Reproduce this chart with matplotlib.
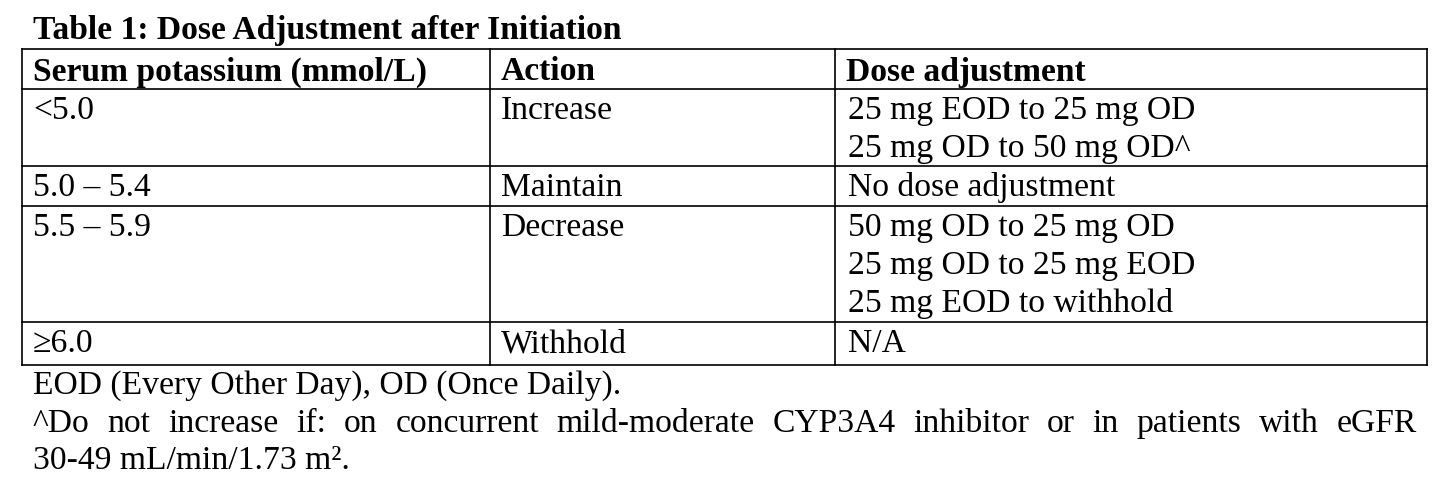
import matplotlib
matplotlib.use("Agg")
import matplotlib.pyplot as plt

plt.rcParams["font.family"] = "Liberation Serif"

title = "Table 1: Dose Adjustment after Initiation"
headers = ["Serum potassium (mmol/L)", "Action", "Dose adjustment"]
potassium = ["<5.0", "5.0 \u2013 5.4", "5.5 \u2013 5.9", "\u22656.0"]
actions = ["Increase", "Maintain", "Decrease", "Withhold"]
adjustments = [
    ["25 mg EOD to 25 mg OD", "25 mg OD to 50 mg OD^"],
    ["No dose adjustment"],
    ["50 mg OD to 25 mg OD", "25 mg OD to 25 mg EOD", "25 mg EOD to withhold"],
    ["N/A"],
]
note1 = "EOD (Every Other Day), OD (Once Daily)."
note2 = ("^Do not increase if: on concurrent mild-moderate CYP3A4 inhibitor "
         "or in patients with eGFR")
note3 = "30-49 mL/min/1.73 m\u00b2."

W, H = 1443, 485
fig = plt.figure(figsize=(W / 100, H / 100), dpi=100)
ax = fig.add_axes([0, 0, 1, 1])
ax.set_xlim(0, W)
ax.set_ylim(H, 0)
ax.axis("off")

fs = 24.2
left, right = 22, 1427
col_x = [left, 490, 835, right]
row_y = [50, 90, 167, 207, 323, 366]
line_h = 38
pad = 11

ax.text(33, 30, title, fontsize=fs, fontweight="bold", va="center")

lw = 1.2
for y in row_y:
    ax.plot([left, right], [y, y], color="black", lw=lw)
for x in col_x:
    ax.plot([x, x], [row_y[0], row_y[-1]], color="black", lw=lw)

for i, h in enumerate(headers):
    ax.text(col_x[i] + pad, (row_y[0] + row_y[1]) / 2 + 2, h, fontsize=fs,
            fontweight="bold", va="center")

for r in range(len(potassium)):
    y0 = row_y[r + 1] + 21
    ax.text(col_x[0] + pad, y0, potassium[r], fontsize=fs, va="center")
    ax.text(col_x[1] + pad, y0, actions[r], fontsize=fs, va="center")
    for k, line in enumerate(adjustments[r]):
        ax.text(col_x[2] + pad + 2, y0 + k * line_h, line, fontsize=fs, va="center")

ax.text(33, 386, note1, fontsize=fs, va="center")

# justified footnote line
words = note2.split(" ")
fig.canvas.draw()
renderer = fig.canvas.get_renderer()
arts = [ax.text(0, 424, w, fontsize=fs, va="center") for w in words]
widths = []
for a in arts:
    bb = a.get_window_extent(renderer)
    widths.append(bb.width)
x0, x1 = 33, 1417
gap = (x1 - x0 - sum(widths)) / (len(words) - 1)
x = x0
for a, w in zip(arts, widths):
    a.set_x(x)
    x += w + gap

ax.text(33, 461, note3, fontsize=fs, va="center")

fig.savefig("out.png", dpi=100, facecolor="white")
